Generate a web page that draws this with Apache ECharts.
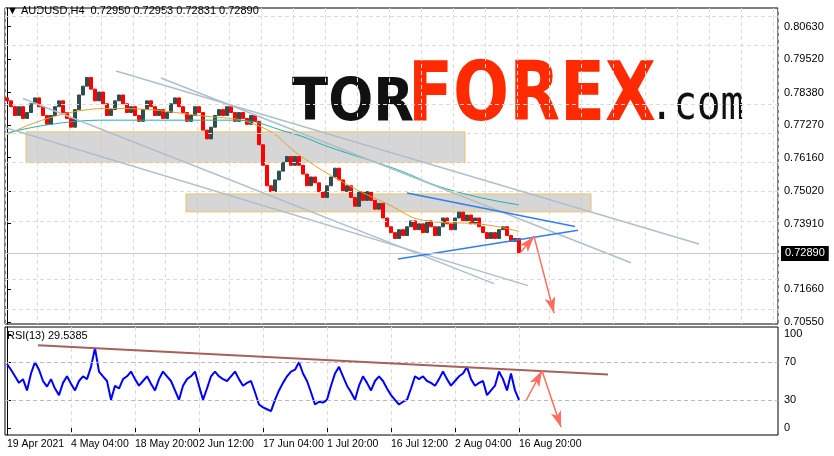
<!DOCTYPE html>
<html>
<head>
<meta charset="utf-8">
<script src="https://cdn.jsdelivr.net/npm/echarts@6/dist/echarts.min.js"></script>
<style>html,body{margin:0;padding:0;background:#fff}#chart{width:834px;height:456px}</style>
</head>
<body>
<div id="chart"></div>
<script>
// closes, one per ~5.5 H4 bars
var closes = [0.781,0.779,0.776,0.779,0.775,0.777,0.780,0.782,0.779,0.776,0.773,
    0.776,0.779,0.781,0.777,0.775,
    0.772,0.778,0.783,0.786,0.789,0.785,0.781,0.784,0.780,0.776,
    0.778,0.781,0.783,0.780,0.777,0.779,0.776,0.774,0.778,0.781,0.779,0.776,0.778,0.775,0.777,
    0.780,0.782,0.779,0.777,0.774,0.776,0.779,0.777,0.771,0.768,
    0.772,0.776,0.778,0.776,0.779,0.777,0.774,0.777,0.775,0.773,
    0.776,0.774,0.766,0.759,0.752,0.750,0.754,0.757,0.760,0.762,
    0.759,0.762,0.759,0.756,0.752,0.755,0.753,0.750,0.748,0.752,
    0.755,0.758,0.754,0.750,0.752,0.748,0.745,0.750,0.747,0.750,
    0.747,0.744,0.746,0.741,0.738,0.736,0.734,0.737,0.735,0.738,
    0.740,0.737,0.739,0.736,0.740,0.738,0.735,0.738,0.741,0.739,
    0.737,0.741,0.743,0.740,0.742,0.739,0.741,0.738,0.736,0.734,
    0.736,0.734,0.737,0.738,0.735,0.733,0.734,0.729];
var firstOpen = 0.782;
var rsi = [68,62,55,48,52,40,58,70,62,50,44,52,42,35,48,55,47,40,50,55,52,65,85,60,55,50,30,45,42,52,
    55,60,52,45,50,55,47,40,52,60,55,50,40,30,45,52,55,60,45,30,42,55,60,55,52,50,55,60,52,45,
    48,50,38,25,22,20,18,30,40,48,55,60,62,70,58,50,38,25,28,27,30,45,58,65,55,45,38,30,45,55,
    48,40,50,55,50,42,35,30,25,28,30,42,55,52,55,50,48,45,52,60,52,45,50,55,58,65,52,45,48,50,
    35,40,45,60,52,40,58,40,30];
var maSlow = [[0,0.7694],[25,0.7784],[50,0.7757],[63,0.7724],[74,0.7616],[84,0.7532],[94,0.7465],[106,0.7398],[119,0.7388],[128,0.7364]];
var maFast = [[0,0.7700],[24,0.7744],[56,0.7744],[71,0.7700],[81,0.7650],[96,0.7583],[111,0.7505],[128,0.7455]];
var priceTicks = [0.80630,0.79520,0.78380,0.77270,0.76160,0.75020,0.73910,0.71660,0.70550];
var timeTicks = [0,16,32,48,64,80,96,112,128];
var timeLabels = ['19 Apr 2021','4 May 04:00','18 May 20:00','2 Jun 12:00','17 Jun 04:00','1 Jul 20:00','16 Jul 12:00','2 Aug 04:00','16 Aug 20:00'];
var channelLines = [[[27.25,0.7912],[173,0.7321]],[[38.5,0.7888],[156,0.7257]],[[4,0.7818],[121.75,0.7186]],[[-0.5,0.7719],[130.25,0.7179]]];
var wedgeLines = [[[100,0.7495],[142,0.7381]],[[97.75,0.7270],[142.75,0.7368]]];
var arrowPts = [[128.25,0.7290],[131.75,0.7347],[136.75,0.7085]];
var zones = [[[4.75,0.7704],[114.5,0.7599]],[[44.75,0.7492],[146,0.7431]]];
var rsiTrend = [[7.75,88],[150.25,57]];
var rsiArrow = [[129.75,29],[133.75,61],[138.5,1]];
var lastPrice = 0.72890;

var candles = [];
for (var i = 0; i < closes.length; i++) {
    var o = i === 0 ? firstOpen : closes[i - 1], c = closes[i];
    candles.push([i, o, c, Math.min(o, c), Math.max(o, c)]);
}
var rsiData = rsi.map(function (v, i) { return [i, v]; });

function seg(p, style, arrow) {
    return [{coord: p[0], lineStyle: style, symbol: 'none'}, {coord: p[1], symbol: arrow ? 'arrow' : 'none'}];
}
var grayStyle = {color: '#aebfcd', width: 1.5, type: 'solid'};
var blueStyle = {color: '#2f7ff0', width: 1.5, type: 'solid'};
var redStyle = {color: '#ff6b5e', width: 1.5, type: 'solid'};
var dashStyle = {color: '#dcdcdc', width: 1, type: [4, 3]};
var annot = [];
channelLines.forEach(function (l) { annot.push(seg(l, grayStyle)); });
wedgeLines.forEach(function (l) { annot.push(seg(l, blueStyle)); });
annot.push(seg([arrowPts[0], arrowPts[1]], redStyle, true));
annot.push(seg([arrowPts[1], arrowPts[2]], redStyle, true));

var chart = echarts.init(document.getElementById('chart'));
var font = 'Liberation Sans';
chart.setOption({
    animation: false,
    textStyle: {fontFamily: font},
    grid: [
        {left: 5, right: 56, top: 8, height: 316, show: true, borderColor: '#000', borderWidth: 1},
        {left: 5, right: 56, top: 327, height: 108, show: true, borderColor: '#000', borderWidth: 1}
    ],
    xAxis: [
        {type: 'value', gridIndex: 0, min: -0.5, max: 192.75, interval: 8,
            axisLine: {show: false}, axisTick: {show: false}, axisLabel: {show: false},
            splitLine: {lineStyle: dashStyle}},
        {type: 'value', gridIndex: 1, min: -0.5, max: 192.75, interval: 16,
            axisLine: {show: false},
            axisTick: {show: true, customValues: timeTicks, length: 4, lineStyle: {color: '#000'}},
            axisLabel: {customValues: timeTicks, fontSize: 10.5, color: '#000', align: 'left', margin: 4,
                formatter: function (v) { return timeLabels[timeTicks.indexOf(v)] || ''; }},
            splitLine: {lineStyle: dashStyle}}
    ],
    yAxis: [
        {type: 'value', gridIndex: 0, position: 'right', min: 0.7048, max: 0.8127, scale: true,
            axisLine: {show: true, lineStyle: {color: '#000'}},
            axisTick: {show: true, customValues: priceTicks, length: 4},
            axisLabel: {customValues: priceTicks, fontSize: 11, color: '#000', margin: 6,
                formatter: function (v) { return v.toFixed(5); }},
            splitLine: {show: false}},
        {type: 'value', gridIndex: 1, position: 'right', min: -7.4, max: 107.4,
            axisLine: {show: true, lineStyle: {color: '#000'}},
            axisTick: {show: true, customValues: [0, 30, 70, 100], length: 4},
            axisLabel: {customValues: [0, 30, 70, 100], fontSize: 11, color: '#000', margin: 6},
            splitLine: {show: false}}
    ],
    series: [
        {type: 'line', xAxisIndex: 0, yAxisIndex: 0, data: [], z: 0,
            markLine: {silent: true, symbol: 'none', label: {show: false},
                data: priceTicks.map(function (p) { return {yAxis: p, lineStyle: dashStyle}; })}},
        {type: 'candlestick', xAxisIndex: 0, yAxisIndex: 0, barWidth: 3,
            data: candles, encode: {x: 0, y: [1, 2, 3, 4]},
            itemStyle: {color: '#2f4f4f', color0: '#ff0000', borderColor: '#2f4f4f', borderColor0: '#ff0000'},
            markArea: {silent: true,
                itemStyle: {color: 'rgba(200,200,200,0.75)', borderColor: '#f2c060', borderWidth: 1},
                data: zones.map(function (z) { return [{coord: z[0]}, {coord: z[1]}]; })},
            markLine: {silent: true, symbol: 'none', animation: false,
                label: {show: false},
                data: annot.concat([[{coord: [-0.5, lastPrice], lineStyle: {color: '#c8c8c8', width: 1, type: 'solid'},
                    label: {show: true, position: 'end', formatter: lastPrice.toFixed(5), color: '#fff',
                        backgroundColor: '#000', padding: [2, 4], fontSize: 11, distance: 3}},
                    {coord: [192.75, lastPrice]}]])}
        },
        {type: 'line', xAxisIndex: 0, yAxisIndex: 0, data: maSlow, smooth: true, symbol: 'none',
            lineStyle: {color: '#e0a020', width: 1}},
        {type: 'line', xAxisIndex: 0, yAxisIndex: 0, data: maFast, smooth: true, symbol: 'none',
            lineStyle: {color: '#20b0a0', width: 1}},
        {type: 'line', xAxisIndex: 1, yAxisIndex: 1, data: rsiData, symbol: 'none',
            lineStyle: {color: '#0000ff', width: 2},
            markLine: {silent: true, symbol: 'none', label: {show: false},
                data: [
                    {yAxis: 70, lineStyle: {color: '#bbb', type: [4, 3], width: 1}},
                    {yAxis: 30, lineStyle: {color: '#bbb', type: [4, 3], width: 1}},
                    seg(rsiTrend, {color: '#a8605a', width: 2, type: 'solid'}),
                    seg([rsiArrow[0], rsiArrow[1]], redStyle, true),
                    seg([rsiArrow[1], rsiArrow[2]], redStyle, true)
                ]}}
    ],
    graphic: [
        {type: 'text', left: 7, top: 5, style: {text: '▼ AUDUSD,H4  0.72950 0.72953 0.72831 0.72890', fontSize: 11, fill: '#000', fontFamily: font}},
        {type: 'text', left: 7, top: 330, style: {text: 'RSI(13) 29.5385', fontSize: 11, fill: '#000', fontFamily: font}},
        {type: 'text', x: 292, y: 134, scaleY: 1.1, style: {text: 'TOR', fontSize: 53, fontWeight: 'bold', verticalAlign: 'bottom', fill: '#111', fontFamily: 'DejaVu Sans'}},
        {type: 'text', x: 408, y: 140, scaleY: 1.25, style: {text: 'FOREX', fontSize: 66, fontWeight: 'bold', verticalAlign: 'bottom', fill: '#ff2a00', fontFamily: 'DejaVu Sans'}},
        {type: 'text', x: 650, y: 131, scaleY: 1.25, style: {text: '.com', fontSize: 39, verticalAlign: 'bottom', fill: '#111', fontFamily: 'DejaVu Sans Mono'}}
    ]
});
</script>
</body>
</html>
